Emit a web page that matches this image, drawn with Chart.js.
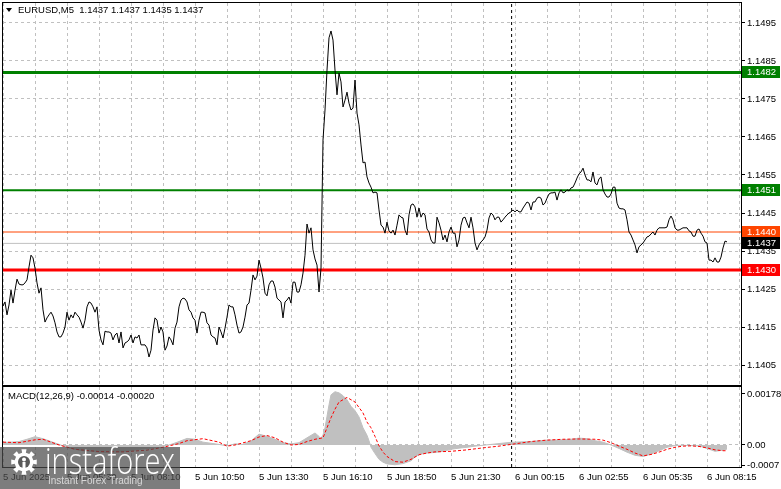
<!DOCTYPE html>
<html><head><meta charset="utf-8">
<script src="https://cdn.jsdelivr.net/npm/chart.js@4.4.1/dist/chart.umd.min.js"></script>
<style>
html,body{margin:0;padding:0;background:#fff;overflow:hidden;}
#wrap{position:relative;width:781px;height:489px;background:#fff;}
#c1{position:absolute;left:0;top:0;}
#c2{position:absolute;left:0;top:386px;}
</style></head><body>
<div id="wrap"><canvas id="c1" width="781" height="387"></canvas><canvas id="c2" width="781" height="103"></canvas></div>
<script>
// ---------------- DATA ----------------
const symbolTitle = 'EURUSD,M5  1.1437 1.1437 1.1435 1.1437';
const macdTitle = 'MACD(12,26,9) -0.00014 -0.00020';
const timeLabels = ['5 Jun 2025','5 Jun 05:30','5 Jun 08:10','5 Jun 10:50','5 Jun 13:30','5 Jun 16:10',
  '5 Jun 18:50','5 Jun 21:30','6 Jun 00:15','6 Jun 02:55','6 Jun 05:35','6 Jun 08:15'];
const barsPerLabel = 32;      // M5 bars between labelled time ticks
const totalBars = 369;        // visible bar slots
const priceTicks = [1.1405,1.1415,1.1425,1.1435,1.1445,1.1455,1.1465,1.1475,1.1485,1.1495];
const macdTicks = [0.00178, 0, -0.0007];
const macdTickLabels = ['0.00178','0.00','-0.0007'];
const levelValues = [1.1482, 1.1451, 1.1440, 1.1437, 1.1430];
const levelLabels = ['1.1482','1.1451','1.1440','1.1437','1.1430'];
const daySeparators = [254.3];

// close of each M5 bar (bar 0 .. 362)
const closes = [
1.14205,1.14216,1.14182,1.14208,1.14247,1.14213,1.14247,1.14276,1.14263,1.14261,
1.14261,1.14266,1.14274,1.14308,1.14339,1.14332,1.14305,1.14266,1.14239,1.14253,
1.14195,1.14163,1.14174,1.14182,1.14189,1.14179,1.14161,1.14137,1.14124,1.14124,
1.14134,1.14150,1.14189,1.14168,1.14182,1.14174,1.14189,1.14182,1.14176,1.14163,
1.14147,1.14168,1.14203,1.14216,1.14213,1.14203,1.14189,1.14203,1.14142,1.14116,
1.14103,1.14139,1.14137,1.14137,1.14134,1.14116,1.14129,1.14134,1.14108,1.14137,
1.14095,1.14108,1.14111,1.14116,1.14129,1.14108,1.14124,1.14121,1.14129,1.14103,
1.14103,1.14103,1.14095,1.14071,1.14089,1.14142,1.14174,1.14168,1.14134,1.14150,
1.14137,1.14089,1.14100,1.14124,1.14116,1.14103,1.14147,1.14163,1.14203,1.14221,
1.14226,1.14224,1.14216,1.14195,1.14189,1.14174,1.14168,1.14134,1.14168,1.14189,
1.14189,1.14187,1.14161,1.14155,1.14129,1.14124,1.14121,1.14103,1.14150,1.14137,
1.14121,1.14147,1.14176,1.14208,1.14203,1.14203,1.14182,1.14155,1.14134,1.14137,
1.14150,1.14176,1.14208,1.14213,1.14247,1.14287,1.14274,1.14284,1.14326,1.14305,
1.14279,1.14239,1.14232,1.14261,1.14271,1.14271,1.14255,1.14226,1.14221,1.14216,
1.14174,1.14216,1.14221,1.14229,1.14213,1.14268,1.14268,1.14242,1.14242,1.14261,
1.14292,1.14339,1.14421,1.14397,1.14411,1.14353,1.14329,1.14313,1.14242,1.14305,
1.14642,1.14721,1.14826,1.14911,1.14929,1.14905,1.14826,1.14761,1.14818,1.14795,
1.14729,1.14747,1.14768,1.14739,1.14721,1.14726,1.14800,1.14713,1.14682,1.14629,
1.14582,1.14584,1.14545,1.14529,1.14518,1.14503,1.14505,1.14503,1.14458,1.14418,
1.14413,1.14397,1.14426,1.14403,1.14397,1.14405,1.14392,1.14418,1.14445,1.14439,
1.14437,1.14405,1.14392,1.14445,1.14471,1.14474,1.14466,1.14439,1.14463,1.14439,
1.14450,1.14445,1.14408,1.14400,1.14379,1.14371,1.14371,1.14439,1.14424,1.14405,
1.14379,1.14392,1.14374,1.14400,1.14413,1.14397,1.14397,1.14361,1.14379,1.14418,
1.14437,1.14439,1.14424,1.14411,1.14439,1.14411,1.14371,1.14353,1.14366,1.14374,
1.14379,1.14387,1.14405,1.14437,1.14450,1.14445,1.14432,1.14439,1.14439,1.14426,
1.14432,1.14439,1.14445,1.14450,1.14453,1.14458,1.14453,1.14458,1.14453,1.14453,
1.14463,1.14471,1.14479,1.14476,1.14458,1.14479,1.14479,1.14489,1.14492,1.14489,
1.14471,1.14476,1.14489,1.14500,1.14503,1.14503,1.14505,1.14484,1.14503,1.14511,
1.14503,1.14505,1.14511,1.14508,1.14516,1.14518,1.14529,1.14542,1.14553,1.14558,
1.14568,1.14550,1.14537,1.14537,1.14532,1.14558,1.14529,1.14524,1.14540,1.14545,
1.14511,1.14500,1.14492,1.14492,1.14500,1.14518,1.14518,1.14476,1.14463,1.14461,
1.14461,1.14458,1.14432,1.14400,1.14392,1.14379,1.14366,1.14345,1.14361,1.14366,
1.14371,1.14379,1.14387,1.14389,1.14395,1.14400,1.14392,1.14405,1.14411,1.14411,
1.14411,1.14411,1.14413,1.14432,1.14442,1.14432,1.14411,1.14405,1.14405,1.14408,
1.14411,1.14411,1.14411,1.14403,1.14400,1.14389,1.14389,1.14405,1.14408,1.14397,
1.14389,1.14374,1.14371,1.14326,1.14326,1.14321,1.14332,1.14321,1.14321,1.14334,
1.14358,1.14376,1.14374
];

// MACD main (histogram) sampled at these bars
const macdBars = [0,4,8,12,16,20,24,28,32,36,40,44,48,52,56,60,64,68,72,76,80,84,88,92,96,100,104,108,112,116,120,124,128,132,136,140,144,148,152,156,158,159,160,161,162,163,164,166,168,170,172,174,176,178,180,182,183,184,186,188,190,192,196,200,204,206,208,212,216,220,224,228,232,236,240,244,248,252,256,260,264,268,272,276,280,284,288,292,296,300,304,308,312,316,320,324,328,332,336,340,344,348,352,356,360,362];
const macdMain = [0.00009,0.00010,0.00012,0.00020,0.00029,0.00022,0.00012,0.00002,-0.00008,-0.00015,-0.00020,-0.00022,-0.00025,-0.00026,-0.00025,-0.00024,-0.00020,-0.00015,-0.00012,-0.00010,-0.00006,0.00002,0.00012,0.00023,0.00020,0.00010,0.00006,0.00002,-0.00003,0.00004,0.00002,0.00014,0.00038,0.00030,0.00020,0.00008,0.00004,0.00008,0.00025,0.00042,0.00030,0.00023,0.00035,0.00060,0.00100,0.00140,0.00175,0.00186,0.00182,0.00172,0.00158,0.00135,0.00120,0.00098,0.00060,0.00034,0.00015,-0.00008,-0.00030,-0.00050,-0.00060,-0.00066,-0.00069,-0.00065,-0.00055,-0.00042,-0.00033,-0.00028,-0.00026,-0.00022,-0.00015,-0.00011,-0.00008,-0.00004,-0.00001,0.00002,0.00005,0.00008,0.00010,0.00011,0.00012,0.00015,0.00017,0.00017,0.00018,0.00020,0.00024,0.00022,0.00015,0.00010,0.00000,-0.00012,-0.00025,-0.00036,-0.00040,-0.00032,-0.00020,-0.00008,-0.00002,-0.00001,-0.00002,-0.00003,-0.00012,-0.00022,-0.00018,-0.00014];
// MACD signal sampled at these bars
const signalBars = [0,8,16,20,24,28,36,48,60,72,80,88,92,100,108,112,116,124,128,132,136,140,144,148,152,156,160,162,164,166,168,172,176,180,182,184,186,188,190,192,196,200,204,208,212,216,220,224,232,240,248,256,264,272,280,288,296,300,304,308,312,316,320,324,328,332,336,340,344,348,352,356,360,362];
const macdSignal = [0.00010,0.00008,0.00018,0.00020,0.00010,0.00000,-0.00015,-0.00023,-0.00024,-0.00018,-0.00008,0.00005,0.00015,0.00022,0.00010,-0.00004,0.00000,0.00015,0.00028,0.00033,0.00025,0.00010,0.00000,0.00002,0.00012,0.00020,0.00025,0.00060,0.00095,0.00125,0.00150,0.00166,0.00150,0.00112,0.00080,0.00060,0.00030,-0.00003,-0.00025,-0.00040,-0.00058,-0.00060,-0.00050,-0.00034,-0.00028,-0.00024,-0.00023,-0.00022,-0.00017,-0.00010,-0.00004,0.00004,0.00012,0.00017,0.00020,0.00021,0.00020,0.00017,0.00008,-0.00004,-0.00015,-0.00028,-0.00038,-0.00033,-0.00025,-0.00015,-0.00008,-0.00004,-0.00003,-0.00005,-0.00010,-0.00017,-0.00020,-0.00020];

// ---------------- STYLE / LAYOUT ----------------
const FONT = {family:'"Liberation Sans", Arial, sans-serif', size:9.5};
const PRICE_MIN = 1.139974, PRICE_MAX = 1.150026;
const MACD_MIN = -0.000768, MACD_MAX = 0.002024;
const levelStyles = [
  {color:'#008000', width:3, box:'#008000'},
  {color:'#008000', width:2, box:'#008000'},
  {color:'#ff4500', width:1, box:'#ff4500'},
  {color:'#c0c0c0', width:1, box:'#000000'},
  {color:'#ff0000', width:3, box:'#ff0000'}
];
const gridBars = [];
for (let b = 0; b <= totalBars; b += barsPerLabel / 2) gridBars.push(b);

const framePlugin = {
  id:'frame',
  afterDatasetsDraw(chart){
    const {ctx, chartArea:a} = chart;
    ctx.save();
    ctx.strokeStyle = '#000'; ctx.lineWidth = 1;
    ctx.strokeRect(Math.round(a.left)-0.5, Math.round(a.top)-0.5, Math.round(a.right-a.left)+1, Math.round(a.bottom-a.top)+1);
    ctx.restore();
  }
};

const headerPlugin = {
  id:'header',
  afterDraw(chart){
    const ctx = chart.ctx;
    ctx.save();
    ctx.fillStyle = '#000';
    ctx.beginPath(); ctx.moveTo(6,8); ctx.lineTo(12,8); ctx.lineTo(9,12); ctx.closePath(); ctx.fill();
    ctx.font = '9.5px ' + FONT.family;
    ctx.textBaseline = 'middle';
    ctx.fillText(symbolTitle, 18, 10.5);
    // level price boxes on the right axis
    const ys = chart.scales.y;
    levelValues.forEach((v, i) => {
      const y = Math.round(ys.getPixelForValue(v));
      ctx.fillStyle = levelStyles[i].box;
      ctx.fillRect(742, y - 6, 38, 12);
      ctx.fillStyle = '#fff';
      ctx.fillText(levelLabels[i], 747, y + 0.5);
    });
    ctx.restore();
  }
};

const mainDatasets = [
  {data: closes.map((c, i) => ({x:i, y:c})), borderColor:'#000', borderWidth:1, pointRadius:0, tension:0}
];
levelValues.forEach((v, i) => mainDatasets.push({
  data:[{x:0, y:v}, {x:totalBars, y:v}], borderColor:levelStyles[i].color,
  borderWidth:levelStyles[i].width, pointRadius:0
}));
daySeparators.forEach(b => mainDatasets.push({
  data:[{x:b, y:PRICE_MIN}, {x:b, y:PRICE_MAX}], borderColor:'#000', borderWidth:1, borderDash:[3,3], pointRadius:0
}));

new Chart(document.getElementById('c1'), {
  type:'line',
  data:{datasets: mainDatasets},
  options:{
    responsive:false, animation:false, devicePixelRatio:1,
    layout:{padding:{left:3, top:3, right:0, bottom:2}},
    plugins:{legend:{display:false}, tooltip:{enabled:false}},
    scales:{
      x:{type:'linear', min:0, max:totalBars,
        afterBuildTicks:s => { s.ticks = gridBars.map(v => ({value:v})); },
        ticks:{display:false},
        grid:{color:'#c0c0c0', drawTicks:false},
        border:{display:false, dash:[3,3]},
        afterFit:s => { s.height = 0; s.paddingLeft = 0; s.paddingRight = 0; }
      },
      y:{position:'right', min:PRICE_MIN, max:PRICE_MAX,
        afterBuildTicks:s => { s.ticks = priceTicks.map(v => ({value:v})); },
        ticks:{color:'#000', font:FONT, padding:2, callback:v => v.toFixed(4)},
        grid:{color:'#c0c0c0', tickColor:'#000', tickLength:4},
        border:{display:false, dash:[3,3]},
        afterFit:s => { s.width = 40; s.paddingTop = 0; s.paddingBottom = 0; }
      }
    }
  },
  plugins:[framePlugin, headerPlugin]
});

// ---------------- MACD ----------------
const macdPlugin = {
  id:'macdtxt',
  afterDraw(chart){
    const ctx = chart.ctx;
    ctx.save();
    ctx.fillStyle = '#000';
    ctx.font = '9.5px ' + FONT.family;
    ctx.textBaseline = 'middle';
    ctx.fillText(macdTitle, 8, 10);
    // watermark
    ctx.fillStyle = 'rgba(75,75,75,0.72)';
    ctx.fillRect(0, 61, 180, 42);
    // gear logo
    const cx = 24, cy = 76, r = 13;
    ctx.fillStyle = '#ffffff';
    ctx.beginPath();
    for (let k = 0; k < 16; k++) {
      const a0 = k * Math.PI / 8 - Math.PI / 16;
      const rr = (k % 2 === 0) ? r : r - 3.5;
      ctx.lineTo(cx + rr * Math.cos(a0), cy + rr * Math.sin(a0));
      ctx.lineTo(cx + rr * Math.cos(a0 + Math.PI / 8), cy + rr * Math.sin(a0 + Math.PI / 8));
    }
    ctx.closePath(); ctx.fill();
    ctx.fillStyle = 'rgba(90,90,90,1)';
    ctx.beginPath(); ctx.arc(cx, cy, 6, 0, Math.PI * 2); ctx.fill();
    ctx.fillStyle = '#fff';
    ctx.beginPath(); ctx.arc(cx, cy - 2.5, 2, 0, Math.PI * 2); ctx.fill();
    ctx.fillRect(cx - 1.5, cy, 3, 6);
    // brand text
    ctx.textBaseline = 'alphabetic';
    ctx.font = '300 36px "Open Sans", "Liberation Sans", sans-serif';
    const w = ctx.measureText('instaforex').width;
    ctx.save();
    ctx.translate(45, 88);
    ctx.scale(130 / w, 1);
    ctx.fillStyle = '#ffffff';
    ctx.fillText('instaforex', 0, 0);
    ctx.restore();
    ctx.font = '10px ' + FONT.family;
    ctx.fillStyle = '#d8d8d8';
    ctx.fillText('Instant Forex Trading', 48, 98);
    ctx.restore();
  }
};

const macdDatasets = [
  {data: signalBars.map((b, i) => ({x:b, y:macdSignal[i]})), borderColor:'#ff0000', borderWidth:1, borderDash:[3,2], pointRadius:0, tension:0},
  {data: macdBars.map((b, i) => ({x:b, y:macdMain[i]})), borderColor:'#c0c0c0', backgroundColor:'#c0c0c0', borderWidth:1, pointRadius:0, fill:'origin', tension:0}
];
daySeparators.forEach(b => macdDatasets.push({
  data:[{x:b, y:MACD_MIN}, {x:b, y:MACD_MAX}], borderColor:'#000', borderWidth:1, borderDash:[3,3], pointRadius:0
}));

new Chart(document.getElementById('c2'), {
  type:'line',
  data:{datasets: macdDatasets},
  options:{
    responsive:false, animation:false, devicePixelRatio:1,
    layout:{padding:{left:3, top:1, right:0, bottom:0}},
    plugins:{legend:{display:false}, tooltip:{enabled:false}},
    scales:{
      x:{type:'linear', min:0, max:totalBars,
        afterBuildTicks:s => { s.ticks = gridBars.map(v => ({value:v})); },
        ticks:{autoSkip:false, maxRotation:0, minRotation:0, align:'start', padding:5, color:'#000', font:FONT,
          callback:v => (v % barsPerLabel === 0 && timeLabels[v / barsPerLabel]) ? timeLabels[v / barsPerLabel] : ''},
        grid:{color:'#c0c0c0', drawTicks:false},
        border:{display:false, dash:[3,3]},
        afterFit:s => { s.height = 22; s.paddingLeft = 0; s.paddingRight = 0; }
      },
      y:{position:'right', min:MACD_MIN, max:MACD_MAX,
        afterBuildTicks:s => { s.ticks = macdTicks.map(v => ({value:v})); },
        ticks:{color:'#000', font:FONT, padding:2, callback:(v, i) => macdTickLabels[i]},
        grid:{color:c => (c.tick && c.tick.value === 0) ? '#c0c0c0' : 'rgba(0,0,0,0)', tickColor:'#000', tickLength:4},
        border:{display:false, dash:[3,3]},
        afterFit:s => { s.width = 40; s.paddingTop = 0; s.paddingBottom = 0; }
      }
    }
  },
  plugins:[framePlugin, macdPlugin]
});
</script>
</body></html>
